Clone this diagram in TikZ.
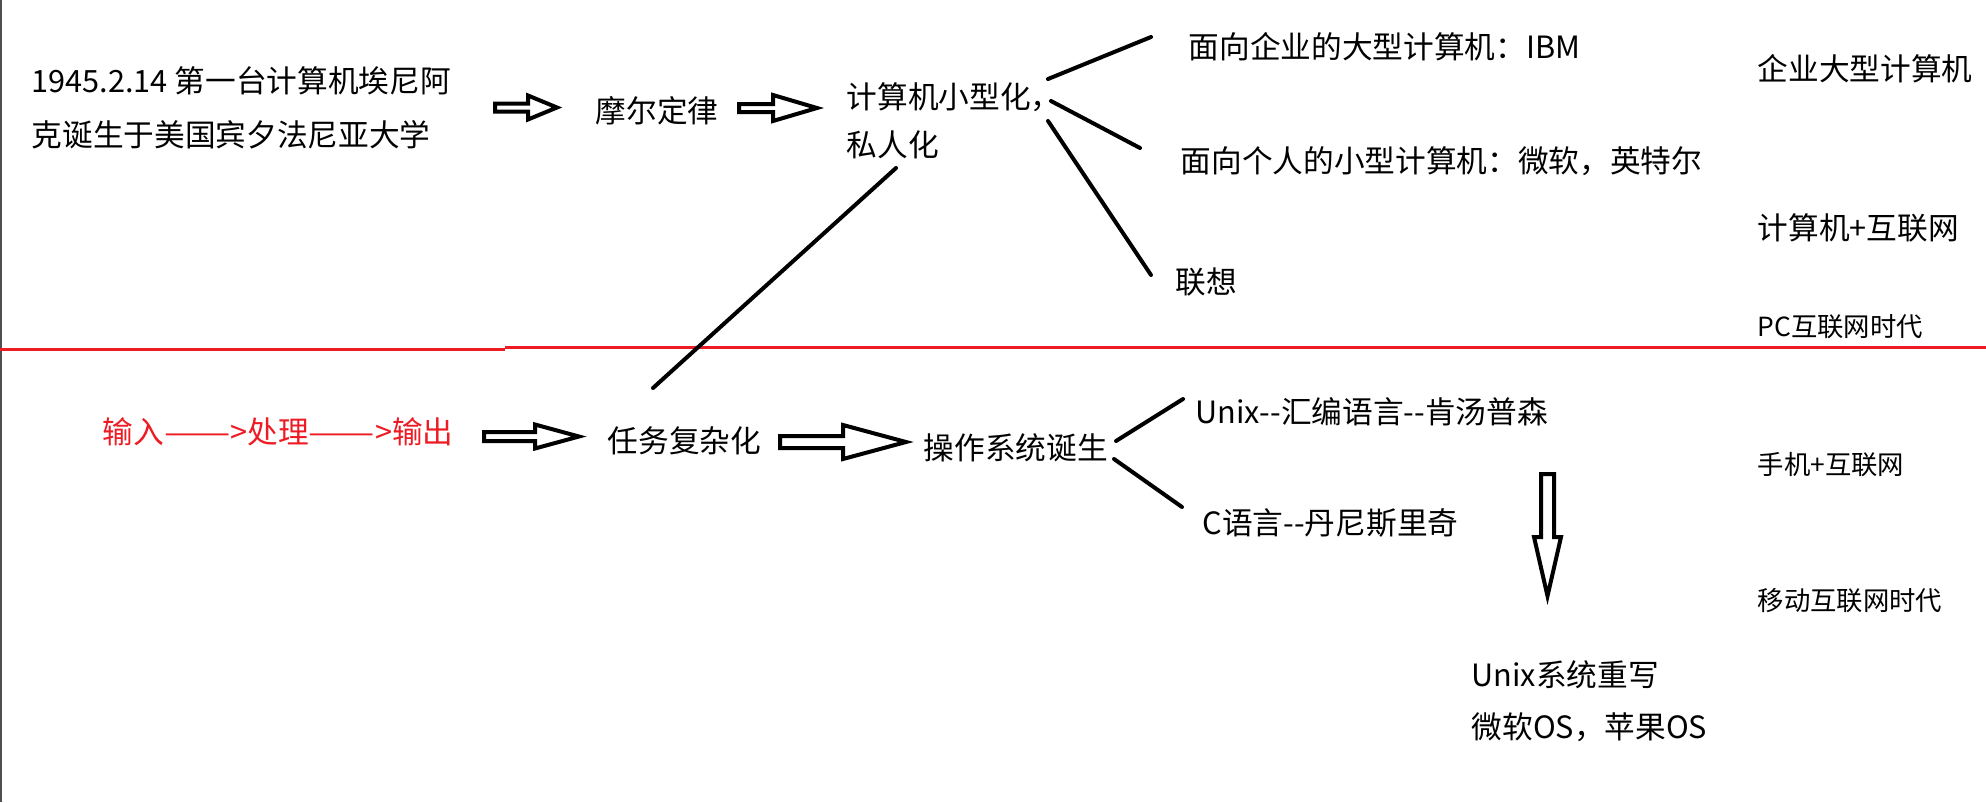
\documentclass[tikz,border=0pt]{standalone}
\usepackage{fontspec}
\setmainfont{Noto Sans CJK SC}
\usetikzlibrary{calc}
\definecolor{penred}{RGB}{237,28,36}
\definecolor{edgegray}{RGB}{80,80,80}
\def\hollowarrow[#1](#2)(#3:#4:#5:#6){\draw[blockarrow,shift={(#2)},#1] (0,#5) -- (#3,#5) -- (#3,#6) -- (#4,0) -- (#3,-#6) -- (#3,-#5) -- (0,-#5) -- cycle;}
\def\longdash{\scalebox{1.29}[1]{——}}

\begin{document}
\begin{tikzpicture}[
		txt/.style={anchor=west, inner sep=0pt, align=left, font=\fontsize{8.73}{15.36}\selectfont},
		smalltxt/.style={txt, font=\fontsize{7.5}{9}\selectfont},
		branch/.style={line width=0.04cm, line cap=round},
		blockarrow/.style={line width=0.04cm, fill=white},
	]
			%%%%% START %%%%%
			\useasboundingbox (0,0) rectangle (19.86,-8.02);
			
			\draw[edgegray, line width=0.025cm] (0.012,0) -- (0.012,-8.02);
			\draw[penred, line width=0.038cm] (0,-3.495) -- (5.05,-3.495);
			\draw[penred, line width=0.038cm] (5.05,-3.475) -- (19.86,-3.475);
			
			% top half
			\node[txt] (birth) at (0.31,-1.08) {1945.2.14 第一台计算机埃尼阿\\克诞生于美国宾夕法尼亚大学};
			\node[txt] (moore) at (5.95,-1.11) {摩尔定律};
			\node[txt, font=\fontsize{8.73}{13.66}\selectfont] (mini) at (8.46,-1.21) {计算机小型化，\\私人化};
			\node[txt] (ibm) at (11.88,-0.47) {面向企业的大型计算机：IBM};
			\node[txt] (pc) at (11.80,-1.61) {面向个人的小型计算机：微软，英特尔};
			\node[txt] (lenovo) at (11.75,-2.82) {联想};
			
			\hollowarrow[](4.95,-1.075)(0.33:0.62:0.04:0.12)
			\hollowarrow[](7.39,-1.08)(0.34:0.78:0.04:0.13)
			
			\draw[branch] ($(mini.west)+(2.02,0.42)$) -- ($(ibm.west)+(-0.37,0.10)$);
			\draw[branch] ($(mini.west)+(2.05,0.20)$) -- ($(pc.west)+(-0.40,0.13)$);
			\draw[branch] ($(mini.west)+(2.02,0.00)$) -- ($(lenovo.west)+(-0.24,0.07)$);
			
			% right column
			\node[txt] (era1) at (17.57,-0.69) {企业大型计算机};
			\node[txt] (era2) at (17.57,-2.28) {计算机+互联网};
			\node[smalltxt] (era3) at (17.57,-3.27) {PC互联网时代};
			\node[smalltxt] (era4) at (17.57,-4.65) {手机+互联网};
			\node[smalltxt] (era5) at (17.57,-6.01) {移动互联网时代};
			
			% bottom half
			\node[txt, text=penred] (ipo) at (1.02,-4.32) {输入\longdash>处理\longdash>输出};
			\node[txt] (task) at (6.07,-4.41) {任务复杂化};
			\node[txt] (os) at (9.23,-4.48) {操作系统诞生};
			\node[txt] (unix) at (11.95,-4.12) {Unix-\kern0pt-汇编语言-\kern0pt-肯汤普森};
			\node[txt] (clang) at (12.02,-5.23) {C语言-\kern0pt-丹尼斯里奇};
			\node[txt, font=\fontsize{8.73}{14.8}\selectfont] (rewrite) at (14.71,-7.01) {Unix系统重写\\微软OS，苹果OS};
			
			\hollowarrow[](4.84,-4.365)(0.51:0.95:0.045:0.12)
			\hollowarrow[](7.80,-4.42)(0.63:1.26:0.06:0.17)
			\hollowarrow[rotate=-90](15.475,-4.74)(0.63:1.22:0.065:0.135)
			
			\draw[branch] ($(mini.west)+(0.50,-0.47)$) -- ($(task.west)+(0.46,0.53)$);
			\draw[branch] ($(os.west)+(1.93,0.07)$) -- ($(unix.west)+(-0.12,0.13)$);
			\draw[branch] ($(os.west)+(1.91,-0.11)$) -- ($(clang.west)+(-0.20,0.16)$);
			
			%%%%% END %%%%%
		\end{tikzpicture}
\end{document}
